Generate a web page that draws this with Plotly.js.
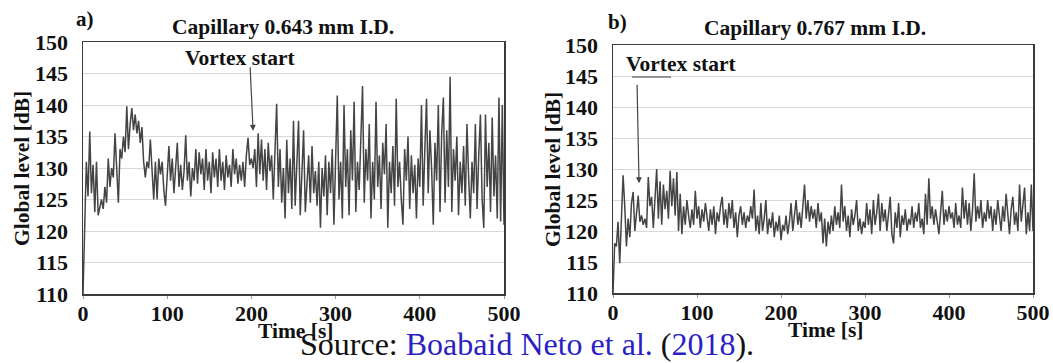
<!DOCTYPE html>
<html>
<head>
<meta charset="utf-8">
<script src="https://cdn.plot.ly/plotly-3.0.1.min.js"></script>
<style>
  html, body { margin: 0; padding: 0; background: #fff; }
  #chart { width: 1053px; height: 363px; }
</style>
</head>
<body>
<div id="chart"></div>
<script>
// ---- Data (one sample every 2 s from t = 0 s) ----
const sampleStartS = 0;
const sampleStepS = 2;

const panelTitles = ["Capillary 0.643 mm I.D.", "Capillary 0.767 mm I.D."];
const panelLetters = ["a)", "b)"];
const xTickVals = [0, 100, 200, 300, 400, 500];
const yTickVals = [110, 115, 120, 125, 130, 135, 140, 145, 150];

// Panel a) capillary 0.643 mm, global level [dB]
const levelA = [
  110, 120, 131, 125.5, 135.8, 126, 130.5, 123, 131, 122.5,
  124, 125, 123.5, 127, 124.5, 131.5, 127, 130, 128.5, 135.5,
  130, 124.5, 133, 131.5, 135, 132.5, 139.8, 133, 137, 139.5,
  136, 138.5, 135.5, 137.5, 134, 136.5, 131, 128.5, 131, 130,
  134.5, 130.5, 125, 131, 125, 131.5, 129, 131, 126.5, 124,
  130, 133.5, 128, 131.5, 126, 131, 134, 127, 130.5, 126.5,
  129.5, 135.2, 128, 131, 125.5, 130, 128, 133, 127.5, 132.5,
  129, 131.5, 126.5, 133, 128, 131, 126, 132.5, 128.5, 131.5,
  127, 133, 128, 131, 126.5, 132, 128.5, 130.5, 127, 133,
  129, 131.5, 127.5, 130.5, 128, 131, 127, 132, 134.8, 130.5,
  131.5, 130, 133, 127, 135.5, 129, 134.5, 128, 133, 126.5,
  134, 129.5, 132, 125, 133.5, 140.2, 127, 133, 124.5, 130,
  122, 134.5, 126, 131.5, 123.5, 137.5, 124, 132, 137.5, 122.5,
  130, 136, 123, 128, 132, 124.5, 133.5, 126, 129.5, 124,
  131, 120.5, 130, 125.5, 132, 122.5, 131, 126, 133, 121,
  130.5, 141.5, 125, 131, 122, 140, 127, 133, 122.5, 136,
  128, 140.5, 123, 131, 126.5, 134, 143, 124.5, 133, 128,
  137, 122, 131, 125, 140.5, 127, 132, 123.5, 134, 129,
  137, 120.5, 131, 126, 133.5, 124, 141, 127, 131, 125,
  121, 133, 128, 135, 123.5, 132, 126, 130.5, 122, 131.5,
  127, 140, 124, 133, 141, 126, 136, 130, 121, 134,
  128, 140, 123, 135.5, 141.2, 124.5, 136, 127, 144.5, 123,
  133, 128, 135, 122.5, 131, 126, 133.5, 124, 137, 128.5,
  122, 131, 126, 137, 123.5, 132, 138.5, 125, 120.5, 138.5,
  127, 134, 123, 138, 125.5, 132, 122, 141.2, 121.5, 140,
  121
];

// Panel b) capillary 0.767 mm, global level [dB]
const levelB = [
  110, 118, 117.5, 121.5, 114.8, 121, 129, 124, 117.5, 122,
  119, 124.5, 126.3, 120, 122.5, 125.7, 121.5, 122.5, 121, 122,
  120.5, 128.7, 124, 125.5, 120.5, 126, 130, 122, 128, 121,
  127.5, 123.5, 126.5, 122, 129.7, 124, 128.5, 122.5, 129.5, 120,
  126, 119.5, 124, 121, 125, 122.5, 120.5, 123.5, 121, 126.5,
  122, 124, 120.5, 123.5, 121.5, 124.5, 122, 120, 123.5, 121,
  124, 119.5, 123, 121.5, 124, 125.5, 121, 123.5, 120.5, 124.5,
  122, 125, 120.5, 123, 119, 122.5, 124, 121, 123, 120.5,
  122.5, 121.5, 124, 122, 126.7, 120, 122.5, 119.5, 124.5, 120,
  122, 125, 119.5, 122, 120.5, 123, 119, 121.5, 120, 122.5,
  118.5, 121, 120, 122.5, 119.5, 121.5, 124.5, 120, 122.5, 125,
  121, 123, 120.5, 124, 127.5, 122, 125, 121.5, 124, 122,
  123.5, 120.5, 124.5, 121.5, 123, 118, 122, 117.5, 121.5, 119.5,
  122.5, 120, 124, 121, 123, 120.5, 127.5, 121.5, 124, 120,
  122.5, 119, 123.5, 121, 122.5, 125, 120, 122, 119.5, 121.5,
  120.5, 124.5, 121, 123.5, 119.5, 125, 121, 123, 126, 120,
  124.5, 121.5, 123.5, 120, 122.5, 125.5, 119.5, 118, 123, 120.5,
  124.5, 119, 122.5, 121, 123.5, 120, 122, 121, 124, 120.5,
  123, 121.5, 124.5, 120.5, 122, 119.5, 126, 121, 128.5, 122,
  124, 121, 123.5, 121.5, 119.5, 123, 126.5, 121, 123.5, 121.5,
  124, 122, 123, 120.5, 124.5, 121, 122.5, 120.5, 127, 122,
  125, 121, 124.5, 120, 123.5, 129.3, 121.5, 124, 122, 125,
  120.5, 123, 121.5, 125, 122, 124, 120, 123.5, 121, 125,
  122.5, 120, 124, 121.5, 126, 122, 119.5, 123.5, 125.5, 121,
  123, 120, 127.5, 121.5, 124, 127, 119.5, 123, 120, 127.5,
  120
];

// Vortex-start markers [time s, level dB] read from the arrows
const vortexA = [202, 135.9];
const vortexB = [31, 127.7];

// ---- Layout helpers (pixel positions -> paper fractions) ----
const W = 1053, H = 363;
const px = v => v / W;
const py = v => (H - v) / H;

const serif = "Liberation Serif, Times New Roman, Times, serif";
const lineColor = "#444444";
const boldFont = size => ({ family: serif, size: size, color: "#111", weight: "bold" });

function axisX(domain, anchor) {
  return {
    domain: domain, anchor: anchor, range: [0, 500],
    tickvals: xTickVals, ticktext: xTickVals.map(String),
    showgrid: false, zeroline: false,
    showline: true, mirror: true, linecolor: "#3c3c3c", linewidth: 1.5,
    ticks: "outside", ticklen: 3, tickcolor: "#999", tickwidth: 1,
    ticklabelstandoff: -4,
    tickfont: boldFont(22),
    fixedrange: true
  };
}
function axisY(domain, anchor) {
  return {
    domain: domain, anchor: anchor, range: [110, 150],
    tickvals: yTickVals, ticktext: yTickVals.map(String),
    showgrid: true, gridcolor: "#d9d9d9", gridwidth: 1,
    zeroline: false,
    showline: true, mirror: true, linecolor: "#3c3c3c", linewidth: 1.5,
    ticks: "", ticklabelstandoff: 9,
    tickfont: boldFont(22),
    fixedrange: true
  };
}

const traces = [
  { type: "scatter", mode: "lines", y: levelA, x0: sampleStartS, dx: sampleStepS,
    xaxis: "x", yaxis: "y", line: { color: lineColor, width: 1.5 }, hoverinfo: "skip" },
  { type: "scatter", mode: "lines", y: levelB, x0: sampleStartS, dx: sampleStepS,
    xaxis: "x2", yaxis: "y2", line: { color: lineColor, width: 1.5 }, hoverinfo: "skip" }
];

function label(xp, yp, text, font, extra) {
  return Object.assign({
    xref: "paper", yref: "paper", x: px(xp), y: py(yp), text: text, showarrow: false,
    xanchor: "center", yanchor: "middle", font: font
  }, extra || {});
}

const annotations = [
  label(85, 19, panelLetters[0], boldFont(21)),
  label(617, 22, panelLetters[1], boldFont(21)),
  label(283, 27, panelTitles[0], boldFont(21.5)),
  label(815, 28, panelTitles[1], boldFont(21.5)),
  label(22, 169, "Global level [dB]", boldFont(21.5), { textangle: -90 }),
  label(553, 170, "Global level [dB]", boldFont(21.5), { textangle: -90 }),
  label(295, 331, "Time [s]", boldFont(21.5)),
  label(825, 330, "Time [s]", boldFont(21.5)),
  label(240, 58, "Vortex start", boldFont(21.5)),
  label(681, 64, "Vortex start", boldFont(21.5)),
  // arrows
  { xref: "x", yref: "y", x: vortexA[0], y: vortexA[1], text: "", showarrow: true,
    ax: -3, ay: -65, arrowhead: 2, arrowsize: 1, arrowwidth: 1.2,
    arrowcolor: "#444", standoff: 0 },
  { xref: "x2", yref: "y2", x: vortexB[0], y: vortexB[1], text: "", showarrow: true,
    ax: -2, ay: -100, arrowhead: 2, arrowsize: 1, arrowwidth: 1.2,
    arrowcolor: "#444", standoff: 0 },
  // source caption
  label(527, 344,
    "Source: <span style='color:#2b1fc4'>Boabaid Neto et al.</span> (<span style='color:#2b1fc4'>2018</span>).",
    { family: serif, size: 32, color: "#111" })
];

const shapes = [
  { type: "line", xref: "paper", yref: "paper", x0: px(632), x1: px(671), y0: py(77), y1: py(77),
    line: { color: "#777", width: 1.5 } }
];

const layout = {
  width: W, height: H,
  margin: { l: 0, r: 0, t: 0, b: 0 },
  paper_bgcolor: "#fff", plot_bgcolor: "#fff",
  showlegend: false,
  xaxis: axisX([px(83), px(504)], "y"),
  yaxis: axisY([py(294), py(42)], "x"),
  xaxis2: axisX([px(613), px(1033)], "y2"),
  yaxis2: axisY([py(293), py(45)], "x2"),
  annotations: annotations,
  shapes: shapes
};

Plotly.newPlot("chart", traces, layout, { staticPlot: true, displayModeBar: false });
</script>
</body>
</html>
